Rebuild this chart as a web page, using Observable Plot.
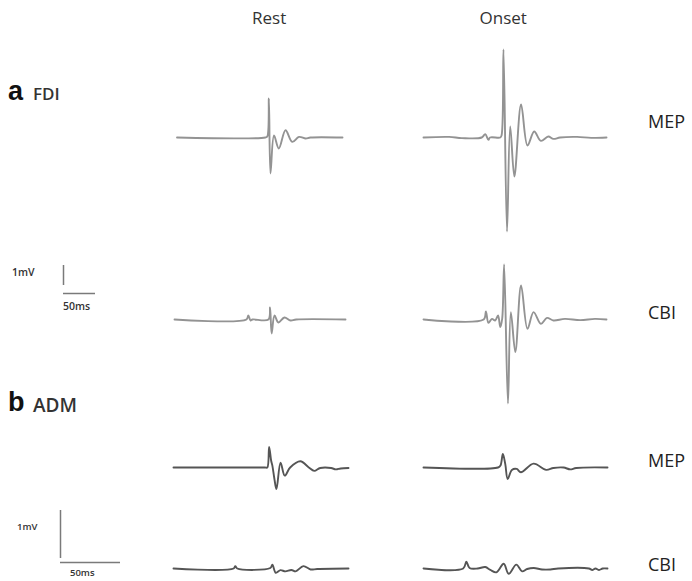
<!DOCTYPE html>
<html><head><meta charset="utf-8">
<script src="https://cdn.jsdelivr.net/npm/d3@7"></script>
<script src="https://cdn.jsdelivr.net/npm/@observablehq/plot@0.6"></script>
<style>
body{margin:0;background:#fff;}
#fig{position:relative;width:692px;height:581px;overflow:hidden;font-family:"Open Sans",sans-serif;color:#222;background:#fff;}
.lbl{position:absolute;white-space:nowrap;line-height:1;}
.plot{position:absolute;}
.plot svg{overflow:visible;display:block;}
</style></head><body><div id="fig"></div>
<script>
// ---- categories / labels ----
const conditions = ["Rest", "Onset"];
const muscles = ["FDI", "ADM"];
const panelLetters = ["a", "b"];
const responses = ["MEP", "CBI"];
const scaleLabels = ["1mV", "50ms"];
const scaleBarMv = 1;
const scaleBarMs = 50;

// ---- traces: time (ms) and amplitude (mV) ----
const fdiRestMepT = [5.5, 143.5, 146.5, 149, 151.5, 157, 164.5, 175, 185.5, 196, 206.5, 214, 264];
const fdiRestMepV = [0, 0, 0.05, 1.95, -1.8, 0.1, -0.55, 0.36, -0.22, 0.03, -0.05, 0, 0];

const fdiOnsetMepT = [0, 40, 60, 91, 96.5, 101.5, 104, 120, 122, 125, 130.5, 135.5, 142, 152.5, 162.5, 173, 183.5, 195, 203, 213.5, 240, 262, 286];
const fdiOnsetMepV = [0, 0.03, -0.03, 0, 0.17, -0.12, 0, 0, 0.1, 4.4, -4.7, 0.55, -1.95, 1.65, -0.4, 0.3, -0.17, 0.05, -0.07, 0, 0.03, -0.02, 0];

const fdiRestCbiT = [1.6, 114, 117, 120.5, 123.5, 148.5, 151, 153.5, 158, 164, 173.5, 183, 192, 269];
const fdiRestCbiV = [0, 0, 0.2, -0.05, 0, 0, 0.6, -0.7, 0.2, -0.15, 0.1, -0.05, 0, 0];

const fdiOnsetCbiT = [0, 94, 97.5, 101.5, 107, 112, 116.5, 120, 123, 126, 132, 136.5, 143.5, 152.5, 162.5, 172, 183.5, 193, 203, 221, 245, 268, 286];
const fdiOnsetCbiV = [0, 0, 0.4, -0.17, 0.03, -0.05, 0.2, -0.38, 0.05, 2.75, -4.2, 0.37, -1.63, 1.7, -0.47, 0.37, -0.22, 0.08, -0.05, 0.03, -0.03, 0.03, 0];

const admRestMepT = [0, 76, 78, 79.5, 81.2, 82.2, 83.9, 85.6, 89, 92.5, 97, 105.5, 112.5, 117, 122, 131, 135, 139, 145.5];
const admRestMepV = [0, 0, 0, 0.43, 0.14, 0.04, -0.24, -0.45, 0.1, -0.17, 0, 0.13, 0, -0.07, -0.01, -0.01, -0.04, -0.02, -0.01];

const admOnsetMepT = [0, 62, 64, 66, 68, 70, 73.5, 77.5, 81, 91.5, 102, 108, 116.5, 122, 127, 153];
const admOnsetMepV = [0, 0, 0.04, 0.28, 0.07, -0.24, -0.05, -0.03, -0.1, 0.08, -0.05, -0.01, 0, -0.04, -0.01, 0];

const admRestCbiT = [0, 50, 51.4, 53, 80.5, 82.2, 85, 89, 93, 98, 101.5, 108, 114, 119.5, 145.5];
const admRestCbiV = [0, 0, 0.05, 0, 0.01, 0.08, -0.09, -0.035, -0.06, -0.03, -0.06, 0.05, -0.02, -0.01, 0];

const admOnsetCbiT = [0, 33, 35.6, 38.3, 45, 51.4, 55.6, 60.6, 66.7, 70.8, 77.2, 82, 86.2, 91.7, 98.6, 105.6, 112, 137.5, 140.3, 143, 146, 149, 153];
const admOnsetCbiV = [0, 0, 0.14, 0.01, 0, 0.03, -0.03, -0.08, 0.1, -0.11, 0.08, -0.06, -0.01, 0.01, -0.02, -0.02, 0, 0, -0.03, 0, -0.03, 0, 0];

// ---- assemble ----
const traces = [
  {muscle: "FDI", response: "MEP", condition: "Rest", t: fdiRestMepT, v: fdiRestMepV},
  {muscle: "FDI", response: "MEP", condition: "Onset", t: fdiOnsetMepT, v: fdiOnsetMepV},
  {muscle: "FDI", response: "CBI", condition: "Rest", t: fdiRestCbiT, v: fdiRestCbiV},
  {muscle: "FDI", response: "CBI", condition: "Onset", t: fdiOnsetCbiT, v: fdiOnsetCbiV},
  {muscle: "ADM", response: "MEP", condition: "Rest", t: admRestMepT, v: admRestMepV},
  {muscle: "ADM", response: "MEP", condition: "Onset", t: admOnsetMepT, v: admOnsetMepV},
  {muscle: "ADM", response: "CBI", condition: "Rest", t: admRestCbiT, v: admRestCbiV},
  {muscle: "ADM", response: "CBI", condition: "Onset", t: admOnsetCbiT, v: admOnsetCbiV}
];

// ---- layout (pixels) ----
const panel = {
  FDI: {pxPerMs: 0.64, pxPerMv: 20, ext: 5, color: "#939393", baseline: {MEP: 136.5, CBI: 319},
        labelCenter: {MEP: 122, CBI: 313},
        letterTop: 78, nameSize: 17, lblSize: 10.5,
        scaleBar: {vx: 63, vTop: 265, hTop: 293}, mvLbl: {x: 12, y: 267}, msLbl: {x: 63, y: 301}},
  ADM: {pxPerMs: 1.2, pxPerMv: 48, ext: 1, color: "#555555", baseline: {MEP: 467, CBI: 568},
        labelCenter: {MEP: 461, CBI: 565},
        letterTop: 389, nameSize: 19, lblSize: 9.5,
        scaleBar: {vx: 60, vTop: 510, hTop: 562}, mvLbl: {x: 17, y: 522}, msLbl: {x: 70, y: 568}}
};
const colLeft = {Rest: 173, Onset: 423};
const colTitleCenter = {Rest: 269, Onset: 503};
const responseLblX = 648;

const fig = document.getElementById("fig");
function place(node, left, top) {
  const d = document.createElement("div");
  d.className = "plot";
  d.style.left = left + "px";
  d.style.top = top + "px";
  d.appendChild(node);
  fig.appendChild(d);
}
function label(text, left, top, css) {
  const d = document.createElement("div");
  d.className = "lbl";
  d.textContent = text;
  d.style.left = left + "px";
  d.style.top = top + "px";
  Object.assign(d.style, css || {});
  fig.appendChild(d);
  return d;
}

for (const tr of traces) {
  const p = panel[tr.muscle];
  const data = tr.t.map((t, i) => ({t, v: tr.v[i]}));
  const dur = d3.max(tr.t);
  const w = Math.round(dur * p.pxPerMs);
  const h = Math.round(2 * p.ext * p.pxPerMv);
  const chart = Plot.plot({
    width: w, height: h, margin: 0,
    x: {domain: [0, dur], range: [0, w], axis: null},
    y: {domain: [-p.ext, p.ext], range: [h, 0], axis: null},
    marks: [
      Plot.line(data, {x: "t", y: "v", stroke: p.color, strokeWidth: 1.9, curve: "catmull-rom", strokeLinejoin: "round"})
    ]
  });
  place(chart, colLeft[tr.condition], p.baseline[tr.response] - p.ext * p.pxPerMv);
}

// scale bars
for (const m of muscles) {
  const p = panel[m];
  const vh = scaleBarMv * p.pxPerMv;
  const hw = scaleBarMs * p.pxPerMs;
  const vbar = Plot.plot({
    width: 2, height: vh, margin: 0,
    x: {domain: [0, 1], range: [1, 1], axis: null},
    y: {domain: [0, scaleBarMv], range: [vh, 0], axis: null},
    marks: [Plot.ruleX([0], {y1: 0, y2: scaleBarMv, stroke: "#7a7a7a", strokeWidth: 1.5})]
  });
  place(vbar, p.scaleBar.vx - 1, p.scaleBar.vTop);
  const hbar = Plot.plot({
    width: hw, height: 2, margin: 0,
    x: {domain: [0, scaleBarMs], range: [0, hw], axis: null},
    y: {domain: [0, 1], range: [1, 1], axis: null},
    marks: [Plot.ruleY([0], {x1: 0, x2: scaleBarMs, stroke: "#7a7a7a", strokeWidth: 1.5})]
  });
  place(hbar, p.scaleBar.vx, p.scaleBar.hTop - 1);
  label(scaleLabels[0], p.mvLbl.x, p.mvLbl.y, {fontSize: p.lblSize + "px", fontWeight: "600", color: "#333"});
  label(scaleLabels[1], p.msLbl.x, p.msLbl.y, {fontSize: p.lblSize + "px", fontWeight: "600", color: "#333"});
}

// column titles
for (const c of conditions) {
  const d = label(c, 0, 9, {fontSize: "17px", color: "#333"});
  d.style.left = (colTitleCenter[c] - d.offsetWidth / 2) + "px";
}

// panel letters
muscles.forEach((m, i) => {
  const p = panel[m];
  label(panelLetters[i], 8, p.letterTop, {fontSize: "27px", fontWeight: "bold", color: "#111", fontFamily: "Liberation Sans, Arial, sans-serif"});
  label(m, 33, p.letterTop + 7, {fontSize: p.nameSize + "px", fontWeight: "600", color: "#333"});
});

// response labels (font 18px: cap centre sits ~9.6px below the box top)
for (const m of muscles) {
  const p = panel[m];
  for (const r of responses) {
    label(r, responseLblX, p.labelCenter[r] - 9.6, {fontSize: "18px", color: "#222"});
  }
}
</script></body></html>
